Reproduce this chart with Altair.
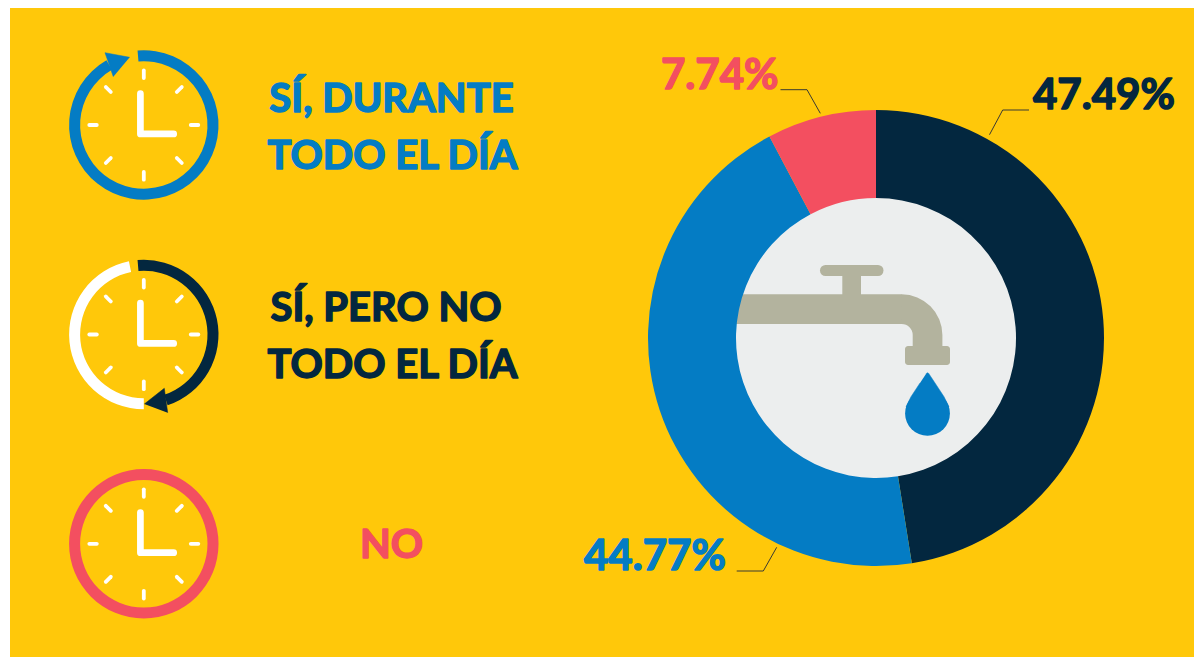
import math
import altair as alt
import pandas as pd

# ---- chart values ----
categories = ["Sí, durante todo el día", "Sí, pero no todo el día", "No"]
shares = [47.49, 44.77, 7.74]
colors = ["#03273F", "#047CC4", "#F34F60"]

YELLOW = "#FFC80A"
BLUE, NAVY, PINK = colors[1], colors[0], colors[2]
WHITE = "#FFFFFF"
PIPE = "#B3B39E"
FONT = "Lato"

# Picture coordinates: scales map them one to one onto the plot area.
sx = alt.Scale(domain=[8, 1194], range=[0, 1186], nice=False, zero=False)
sy = alt.Scale(domain=[657, 8], range=[649, 0], nice=False, zero=False)
X = lambda f="x": alt.X(f"{f}:Q", scale=sx, axis=None)
Y = lambda f="y": alt.Y(f"{f}:Q", scale=sy, axis=None)
X2 = lambda f="x2": alt.X2(f"{f}:Q")
Y2 = lambda f="y2": alt.Y2(f"{f}:Q")
deg = math.radians


def rect(x, x2, y, y2, color, radius=0):
    return alt.Chart(pd.DataFrame([dict(x=x, x2=x2, y=y, y2=y2)])).mark_rect(
        color=color, cornerRadius=radius
    ).encode(x=X(), x2=X2(), y=Y(), y2=Y2())


def arc(cx, cy, r0, r1, a0, a1, color):
    return alt.Chart(pd.DataFrame([dict(x=cx, y=cy)])).mark_arc(
        color=color, innerRadius=r0, outerRadius=r1, theta=deg(a0), theta2=deg(a1)
    ).encode(x=X(), y=Y())


def poly(points, color):
    df = pd.DataFrame(points, columns=["x", "y"]).assign(o=range(len(points)))
    return alt.Chart(df).mark_line(fill=color, stroke=color, strokeWidth=0.5).encode(
        x=X(), y=Y(), order="o:Q"
    )


def path(points, color, width, **kw):
    df = pd.DataFrame(points, columns=["x", "y"]).assign(o=range(len(points)))
    return alt.Chart(df).mark_line(color=color, strokeWidth=width, **kw).encode(
        x=X(), y=Y(), order="o:Q"
    )


def text(s, x, y, size, color, align="left"):
    return alt.Chart(pd.DataFrame([dict(x=x, y=y, t=s)])).mark_text(
        font=FONT, fontWeight="bold", fontSize=size, color=color, align=align,
        baseline="alphabetic", stroke=color, strokeWidth=1.5, strokeJoin="round",
    ).encode(x=X(), y=Y(), text="t:N")


layers = [rect(10, 1194, 8, 657, YELLOW)]

# ---- clocks ----
CLOCK_X = 143.8
R_IN, R_OUT = 63.7, 74.7
clock_y = [125.0, 334.5, 543.8]

layers += [
    arc(CLOCK_X, clock_y[0], R_IN, R_OUT, 355.2, 690, BLUE),
    poly([(129.7, 57.3), (105, 52.7), (113.3, 76.7)], BLUE),
    arc(CLOCK_X, clock_y[1], R_IN, R_OUT, 355.2, 521.4, NAVY),
    poly([(144.3, 404), (164.3, 388.3), (167.7, 412.7)], NAVY),
    arc(CLOCK_X, clock_y[1], R_IN, R_OUT, 180, 348.5, WHITE),
    arc(CLOCK_X, clock_y[2], R_IN, R_OUT, 0, 360, PINK),
]

tick_offsets = [
    (0, -54.5, 0, -47), (0, 47, 0, 54.7), (-54.5, 0, -47, 0), (47, 0, 54.5, 0),
    (-38, -38, -33, -33), (38, -38, 33, -33), (-38, 38, -33, 33), (38, 38, 33, 33),
]
ticks = pd.DataFrame([
    dict(x=CLOCK_X + a, y=cy + b, x2=CLOCK_X + c, y2=cy + d)
    for cy in clock_y for a, b, c, d in tick_offsets
])
layers.append(
    alt.Chart(ticks).mark_rule(color=WHITE, strokeWidth=3.8, strokeCap="round").encode(
        x=X(), y=Y(), x2=X2(), y2=Y2()
    )
)
for cy in clock_y:
    layers.append(
        path([(CLOCK_X - 3.4, cy - 31.3), (CLOCK_X - 3.4, cy + 8.9), (CLOCK_X + 29.9, cy + 8.9)],
             WHITE, 6.7, strokeCap="round", strokeJoin="round")
    )

# ---- captions ----
layers += [
    text("SÍ, DURANTE", 391.5, 111.5, 40, BLUE, "center"),
    text("TODO EL DÍA", 392.5, 168.5, 40, BLUE, "center"),
    text("SÍ, PERO NO", 386, 320.5, 40, NAVY, "center"),
    text("TODO EL DÍA", 392.5, 378, 40, NAVY, "center"),
    text("NO", 391.5, 558, 40, PINK, "center"),
]

# ---- centre disc and faucet (the ring is drawn after it and trims the pipe) ----
CX, CY = 876, 338
layers += [
    arc(CX, CY, 0, 141, 0, 360, "#ECEEEE"),
    rect(730, 902, 294.3, 324, PIPE),
    arc(901.7, 335, 11, 40.7, 0, 90, PIPE),
    rect(912.7, 942.4, 335, 350, PIPE),
    rect(905, 950, 346, 365, PIPE, 3),
    rect(842.3, 861, 274, 295, PIPE),
    path([(825.5, 270.5), (878, 270.5)], PIPE, 11, strokeCap="round"),
    arc(927.5, 413.4, 0, 22.4, 0, 360, BLUE),
    poly([(926.3, 373.5), (927.5, 372.7), (928.7, 373.5), (935, 383), (944, 396.7), (949, 407),
          (906, 407), (911, 396.7), (920, 383)], BLUE),
]

# ---- donut, drawn from the shares through a stacked theta ----
donut = pd.DataFrame(dict(cat=categories, v=shares, o=range(3), x=CX, y=CY))
layers.append(
    alt.Chart(donut).mark_arc(innerRadius=140, outerRadius=228).encode(
        theta=alt.Theta("v:Q", stack=True,
                        scale=alt.Scale(domain=[0, sum(shares)], range=[0, 2 * math.pi])),
        order="o:Q",
        color=alt.Color("cat:N", scale=alt.Scale(domain=categories, range=colors), legend=None),
        x=X(), y=Y(),
    )
)

# ---- leaders and percentages ----
LINE = "#3A3A32"
layers += [
    path([(1029, 110), (1002.7, 110), (989.5, 134.7)], LINE, 1),
    path([(780.5, 89.7), (807, 89.7), (820.3, 113.3)], LINE, 1),
    path([(736.7, 571), (763.3, 571), (776.7, 547.3)], LINE, 1),
    text(f"{shares[0]:.2f}%", 1033, 108.5, 42, NAVY),
    text(f"{shares[1]:.2f}%", 584, 569.5, 42, BLUE),
    text(f"{shares[2]:.2f}%", 661, 88.5, 42, PINK),
]

chart = alt.layer(*layers).properties(
    width=1186, height=649, padding=0, background="#FFFFFF",
).configure_view(stroke=None)

chart.save("out.html", embed_options={"renderer": "svg", "actions": False})
